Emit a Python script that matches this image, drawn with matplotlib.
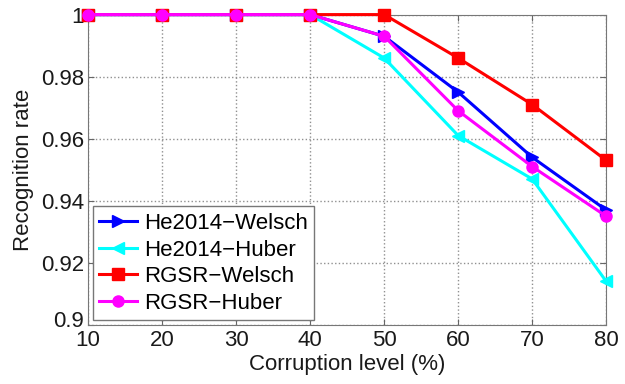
import numpy as np
import matplotlib.pyplot as plt
import matplotlib.transforms as mtransforms

plt.rcParams['font.family'] = ['Liberation Sans', 'DejaVu Sans']

levels = [10, 20, 30, 40, 50, 60, 70, 80]
he_welsch = [1, 1, 1, 1, 0.993, 0.975, 0.954, 0.937]
he_huber = [1, 1, 1, 1, 0.986, 0.961, 0.947, 0.914]
rgsr_welsch = [1, 1, 1, 1, 1, 0.986, 0.971, 0.953]
rgsr_huber = [1, 1, 1, 1, 0.993, 0.969, 0.951, 0.935]

fig = plt.figure(figsize=(6.25, 3.84), dpi=100)
ax = fig.add_axes([0.141, 0.154, 0.829, 0.808])

ax.plot(levels, he_welsch, '-', color='#0000ff', marker='>', ms=9, lw=2.2,
        clip_on=False, zorder=3, label='He2014\u2212Welsch')
ax.plot(levels, he_huber, '-', color='#00ffff', marker='<', ms=9, lw=2.2,
        clip_on=False, zorder=3, label='He2014\u2212Huber')
ax.plot(levels, rgsr_welsch, '-', color='#ff0000', marker='s', ms=8, lw=2.2,
        clip_on=False, zorder=3, label='RGSR\u2212Welsch')
ax.plot(levels, rgsr_huber, '-', color='#ff00ff', marker='o', ms=8, lw=2.2,
        clip_on=False, zorder=3, label='RGSR\u2212Huber')

ax.set_xlim(10, 80)
ax.set_ylim(0.9, 1)
ax.set_xticks(levels)
ax.set_yticks([0.9, 0.92, 0.94, 0.96, 0.98, 1])
ax.set_yticklabels(['0.9', '0.92', '0.94', '0.96', '0.98', '1'])
ax.grid(True, linestyle=':', color='#909090', lw=1)
ax.tick_params(direction='in', labelsize=16, length=4, pad=3, color='#666666',
               labelcolor='#1a1a1a', top=True, right=True)
ax.tick_params(axis='x', pad=4)
for s in ax.spines.values():
    s.set_color('#777777')
ax.set_xlabel('Corruption level (%)', fontsize=16, color='#1a1a1a', labelpad=2)
ax.set_ylabel('Recognition rate', fontsize=16, color='#1a1a1a', labelpad=5)

# nudge the bottom y label up a little so it does not sit on the "10"
lbl = ax.get_yticklabels()[0]
lbl.set_transform(lbl.get_transform() + mtransforms.ScaledTranslation(0, 4 / 72, fig.dpi_scale_trans))

leg = ax.legend(loc='lower left', fontsize=16, fancybox=False, edgecolor='#777777',
                framealpha=1, handlelength=1.7, borderaxespad=0.2, borderpad=0.3,
                labelspacing=0.25, handletextpad=0.3)
leg.get_frame().set_linewidth(1)

plt.savefig('out.png', dpi=100)
